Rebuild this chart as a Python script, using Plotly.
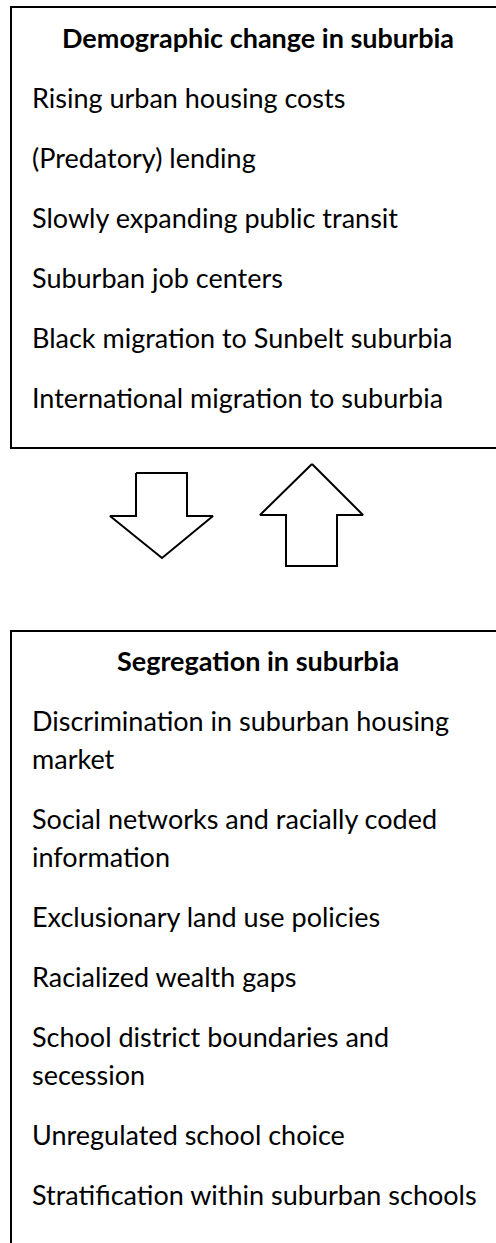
import plotly.graph_objects as go

W, H = 496, 1243

top_title = "Demographic change in suburbia"
top_items = [
    ["Rising urban housing costs"],
    ["(Predatory) lending"],
    ["Slowly expanding public transit"],
    ["Suburban job centers"],
    ["Black migration to Sunbelt suburbia"],
    ["International migration to suburbia"],
]

bottom_title = "Segregation in suburbia"
bottom_items = [
    ["Discrimination in suburban housing", "market"],
    ["Social networks and racially coded", "information"],
    ["Exclusionary land use policies"],
    ["Racialized wealth gaps"],
    ["School district boundaries and", "secession"],
    ["Unregulated school choice"],
    ["Stratification within suburban schools"],
]

# outline vertices of the boxes and arrows
top_box_x = [W + 5, 11, 11, W + 5]
top_box_y = [7, 7, 448, 448]
bottom_box_x = [W + 5, 11, 11]
bottom_box_y = [631, 631, H + 5]
down_x = [136, 187, 187, 213, 162, 110, 136, 136]
down_y = [473, 473, 516, 516, 558, 516, 516, 473]
up_x = [312, 363, 337, 337, 286, 286, 260, 312]
up_y = [464, 515, 515, 566, 566, 515, 515, 464]

FONT = "Lato"
SIZE = 27
LINE_H = 38
ITEM_GAP = 22

fig = go.Figure()
annotations = []

def add_outline(xs, ys, fill=False):
    fig.add_trace(go.Scatter(x=xs, y=ys, mode="lines",
                             line=dict(color="black", width=2),
                             fill="toself" if fill else None,
                             fillcolor="white", hoverinfo="skip",
                             cliponaxis=False))

def add_block(title, items, title_y, text_x):
    annotations.append(dict(x=258, y=title_y, xref="x", yref="y", text="<b>" + title + "</b>",
                            showarrow=False, xanchor="center", yanchor="middle",
                            font=dict(family=FONT, size=SIZE, color="black")))
    y = title_y + 60
    for item in items:
        for line in item:
            annotations.append(dict(x=text_x, y=y, xref="x", yref="y", text=line,
                                    showarrow=False, xanchor="left", yanchor="middle",
                                    font=dict(family=FONT, size=SIZE, color="black")))
            y += LINE_H
        y += ITEM_GAP

add_outline(top_box_x, top_box_y)
add_outline(bottom_box_x, bottom_box_y)
add_outline(down_x, down_y, fill=True)
add_outline(up_x, up_y, fill=True)
add_block(top_title, top_items, 37, 30)
add_block(bottom_title, bottom_items, 660, 30)

fig.update_layout(
    width=W, height=H, margin=dict(l=0, r=0, t=0, b=0),
    paper_bgcolor="white", plot_bgcolor="white",
    xaxis=dict(range=[0, W], visible=False, fixedrange=True),
    yaxis=dict(range=[H, 0], visible=False, fixedrange=True),
    annotations=annotations, showlegend=False,
)
fig.write_html(
    "out.html",
    config={"displayModeBar": False},
    post_script="document.body.style.margin='0';document.body.style.overflow='hidden';",
)
